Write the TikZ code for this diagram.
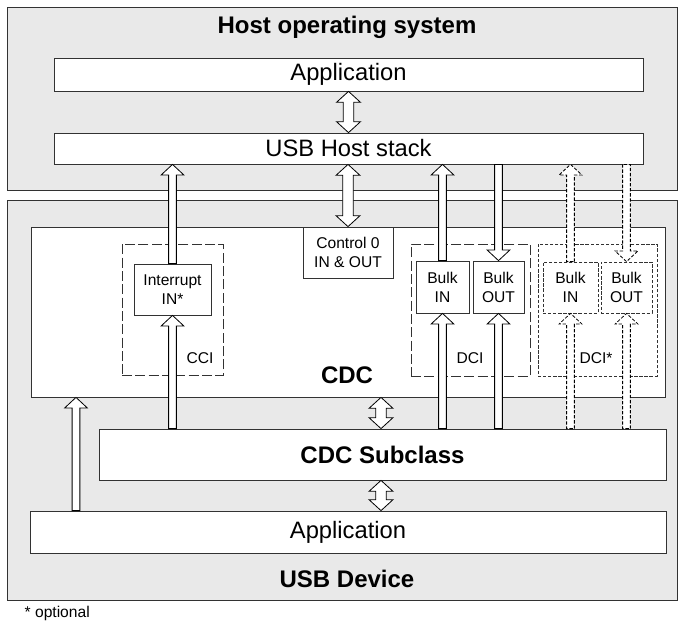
\documentclass[tikz,border=0pt]{standalone}
\usepackage{fontspec}
\setmainfont{Liberation Sans}
\usetikzlibrary{calc,fit}

\definecolor{layergray}{RGB}{233,233,233}
\definecolor{edgegray}{RGB}{50,50,50}

\tikzset{
  layer/.style={draw=edgegray,fill=layergray,line width=0.7pt,inner sep=0pt},
  box/.style={draw=edgegray,fill=white,line width=0.6pt,inner sep=0pt,align=center},
  sized/.style 2 args={minimum width=#1*0.75pt,minimum height=#2*0.75pt},
  bigtext/.style={font=\fontsize{17.8}{21}\selectfont},
  boldtext/.style={font=\fontsize{18}{21}\selectfont\bfseries},
  smalltext/.style={font=\fontsize{11.7}{14.3}\selectfont},
  ifgroup/.style={draw=edgegray,line width=0.6pt,dash pattern=on 7.5pt off 2.5pt,inner sep=0pt},
  optgroup/.style={draw=edgegray,line width=0.6pt,dash pattern=on 2.5pt off 1.3pt,inner sep=0pt},
  pipe/.style={draw=black,fill=white,line width=0.6pt,line join=miter},
  optpipe/.style={dash pattern=on 2.5pt off 1.3pt},
}

% hollow arrow, tail #2, tip #3
\newcommand{\pipearrow}[3][]{%
  \path (#2) coordinate (pa-t) (#3) coordinate (pa-h);
  \path ($(pa-h)!8pt!(pa-t)$) coordinate (pa-b);
  \draw[pipe,#1] ($(pa-t)!2.9pt!90:(pa-h)$) -- ($(pa-b)!2.9pt!90:(pa-h)$)
    -- ($(pa-b)!8.6pt!90:(pa-h)$) -- (pa-h) -- ($(pa-b)!8.6pt!-90:(pa-h)$)
    -- ($(pa-b)!2.9pt!-90:(pa-h)$) -- ($(pa-t)!2.9pt!-90:(pa-h)$) -- cycle;}

% hollow arrow with two heads, between #2 and #3
\newcommand{\pipedouble}[3][]{%
  \path (#2) coordinate (pd-a) (#3) coordinate (pd-b);
  \path ($(pd-a)!8.2pt!(pd-b)$) coordinate (pd-ah) ($(pd-b)!8.2pt!(pd-a)$) coordinate (pd-bh);
  \draw[pipe,#1] (pd-a) -- ($(pd-ah)!9pt!-90:(pd-b)$) -- ($(pd-ah)!4pt!-90:(pd-b)$)
    -- ($(pd-bh)!4pt!-90:(pd-b)$) -- ($(pd-bh)!9pt!-90:(pd-b)$) -- (pd-b)
    -- ($(pd-bh)!9pt!90:(pd-b)$) -- ($(pd-bh)!4pt!90:(pd-b)$)
    -- ($(pd-ah)!4pt!90:(pd-b)$) -- ($(pd-ah)!9pt!90:(pd-b)$) -- cycle;}

\begin{document}
\begin{tikzpicture}[x=0.75pt,y=0.75pt,yscale=-1,xscale=1]
\useasboundingbox (0,0) rectangle (678,622);

% Host side
\node[layer, fit={(7,7) (677,190)}] (host) {};
\node[boldtext] (hosttitle) at (347,27) {Host operating system};
\node[box, bigtext, sized={589}{33}] (happ) at (348.5,74.5) {Application};
\node[box, bigtext, sized={589}{31}] (hstack) at (348.5,148.5) {USB Host stack};

% Device side
\node[layer, fit={(7,200) (677,600)}] (device) {};
\node[box, fit={(31,227) (665,397)}] (cdc) {};
\node[boldtext] (cdctitle) at (347,375) {CDC};
\node[box, smalltext, sized={90}{51}] (ctrl) at (348,252.5) {Control 0\\IN \& OUT};

% Interfaces
\node[ifgroup, fit={(122,244) (223,375)}] (cci) {};
\node[smalltext] (ccilabel) at (200,358) {CCI};
\node[box, smalltext, sized={77}{51}] (intr) at (172.5,289.5) {Interrupt\\IN*};

\node[ifgroup, fit={(411,244) (530,376)}] (dci) {};
\node[smalltext] (dcilabel) at (470,358) {DCI};
\node[box, smalltext, sized={53}{52}] (bin) at (442.5,287) {Bulk\\IN};
\node[box, smalltext, sized={51}{52}] (bout) at (498.5,287) {Bulk\\OUT};

\node[optgroup, fit={(538,244) (657,376)}] (dciopt) {};
\node[smalltext] (dcioptlabel) at (596,358) {DCI*};
\node[box, optgroup, smalltext, sized={55}{51}] (binopt) at (570.5,287.5) {Bulk\\IN};
\node[box, optgroup, smalltext, sized={51}{51}] (boutopt) at (626.5,287.5) {Bulk\\OUT};

\node[box, boldtext, sized={567}{51}] (subcls) at (382.5,454.5) {CDC Subclass};
\node[box, bigtext, sized={636}{42}] (dapp) at (348,532) {Application};
\node[boldtext] (devtitle) at (347,579) {USB Device};

% Text Node
\node[smalltext, anchor=west] (note) at (20,613) {* optional};

\coordinate (stackaxis) at (381,0);
\coordinate (sideaxis) at (76,0);

% Arrows
\pipedouble{happ.south}{hstack.north}
\pipedouble{hstack.south -| ctrl.north}{ctrl.north}
\pipearrow{intr.north}{intr.north |- hstack.south}
\pipearrow{bin.north}{bin.north |- hstack.south}
\pipearrow{bout.north |- hstack.south}{bout.north}
\pipearrow[optpipe]{binopt.north}{binopt.north |- hstack.south}
\pipearrow[optpipe]{boutopt.north |- hstack.south}{boutopt.north}

\pipearrow{intr.south |- subcls.north}{intr.south}
\pipearrow{bin.south |- subcls.north}{bin.south}
\pipearrow{bout.south |- subcls.north}{bout.south}
\pipearrow[optpipe]{binopt.south |- subcls.north}{binopt.south}
\pipearrow[optpipe]{boutopt.south |- subcls.north}{boutopt.south}

\pipedouble{cdc.south -| stackaxis}{subcls.north -| stackaxis}
\pipedouble{subcls.south -| stackaxis}{dapp.north -| stackaxis}
\pipearrow{dapp.north -| sideaxis}{cdc.south -| sideaxis}

\end{tikzpicture}
\end{document}
